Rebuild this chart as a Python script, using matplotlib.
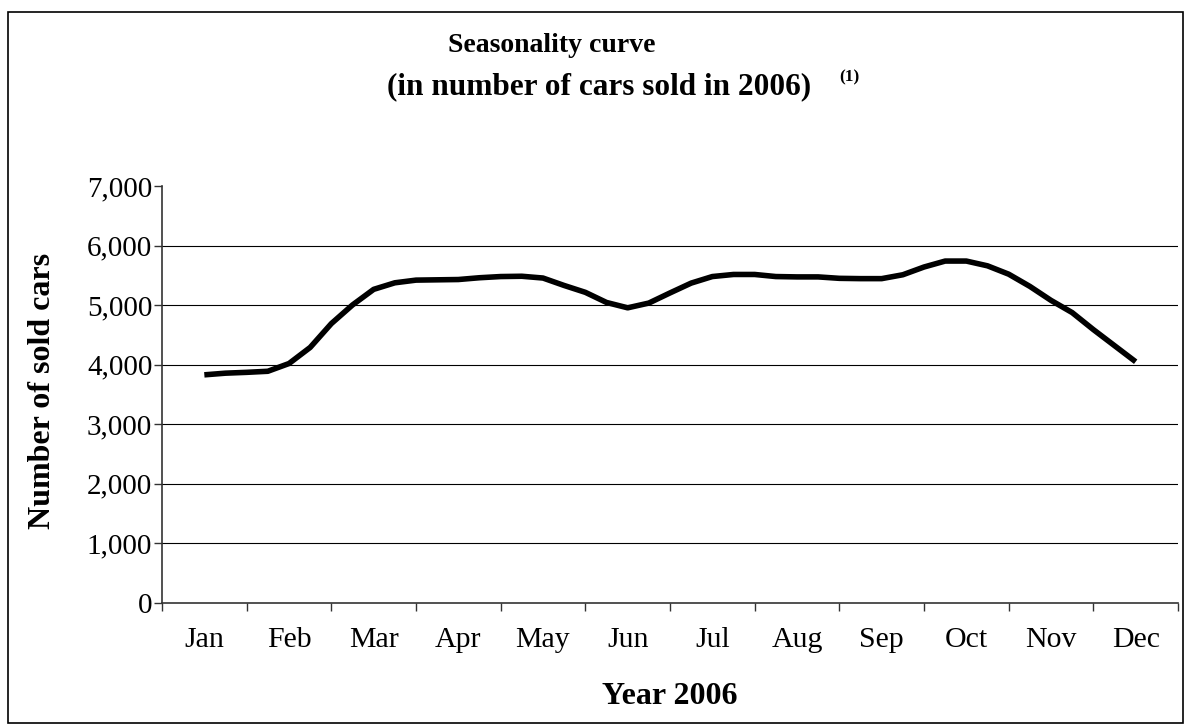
import numpy as np
import matplotlib
matplotlib.use("Agg")
import matplotlib.pyplot as plt
from matplotlib.patches import Rectangle
from matplotlib.ticker import FuncFormatter

# Data (quarter-month sampling, Jan=0 .. Dec=11)
months = ["Jan", "Feb", "Mar", "Apr", "May", "Jun", "Jul", "Aug", "Sep", "Oct", "Nov", "Dec"]
positions = [i * 0.25 for i in range(45)]
sold_cars = [3830, 3858, 3872, 3890, 4020, 4290, 4690, 5003, 5265, 5375, 5420, 5425,
             5430, 5460, 5480, 5485, 5455, 5330, 5215, 5045, 4955, 5035, 5205, 5370,
             5480, 5515, 5515, 5480, 5474, 5474, 5450, 5445, 5445, 5510, 5640, 5740,
             5740, 5660, 5520, 5315, 5080, 4875, 4590, 4320, 4050]
yticks = [0, 1000, 2000, 3000, 4000, 5000, 6000, 7000]

plt.rcParams['font.family'] = ['Liberation Serif', 'DejaVu Serif']

W, H = 1186, 727
fig = plt.figure(figsize=(W / 100, H / 100), dpi=100)
fig.patch.set_facecolor('white')

ax = fig.add_axes([162 / W, 1 - 603 / H, (1178 - 162) / W, (603 - 186) / H])
ax.set_xlim(-0.5, 11.5)
ax.set_ylim(0, 7000)

for y in yticks[1:-1]:
    ax.axhline(y, color='black', lw=0.8, zorder=1)

ax.plot(positions, sold_cars, color='black', lw=4.0, solid_capstyle='butt',
        solid_joinstyle='round', zorder=3)

for s in ['top', 'right']:
    ax.spines[s].set_visible(False)
for s in ['left', 'bottom']:
    ax.spines[s].set_color('#333333')
    ax.spines[s].set_linewidth(1.2)

ax.set_yticks(yticks)
ax.yaxis.set_major_formatter(FuncFormatter(lambda v, p: f"{int(v):,}"))
ax.tick_params(axis='y', direction='out', length=6, width=1, color='#333333',
               labelsize=21, pad=1)

ax.set_xticks(np.arange(-0.5, 12, 1))
ax.set_xticklabels([])
ax.set_xticks(range(12), minor=True)
ax.set_xticklabels(months, minor=True)
ax.tick_params(axis='x', which='major', direction='out', length=6, width=1, color='#333333')
ax.tick_params(axis='x', which='minor', length=0, labelsize=21.5, pad=17)

fig.text(43 / W, 1 - 391 / H, "Number of sold cars", rotation=90, ha='center', va='center',
         fontsize=23, fontweight='bold')
fig.text(670 / W, 1 - 697 / H, "Year 2006", ha='center', va='center',
         fontsize=23, fontweight='bold')

fig.text(552 / W, 1 - 45 / H, "Seasonality curve", ha='center', va='center',
         fontsize=20, fontweight='bold')
fig.text(599 / W, 1 - 87 / H, "(in number of cars sold in 2006)", ha='center', va='center',
         fontsize=22.5, fontweight='bold')
fig.text(849 / W, 1 - 77 / H, "(1)", ha='center', va='center', fontsize=12.5, fontweight='bold')

fig.patches.append(Rectangle((8 / W, 1 - 723 / H), (1183 - 8) / W, (723 - 12) / H,
                             transform=fig.transFigure, fill=False, edgecolor='black', lw=1.2))

fig.savefig("out.png", dpi=100, facecolor='white')
